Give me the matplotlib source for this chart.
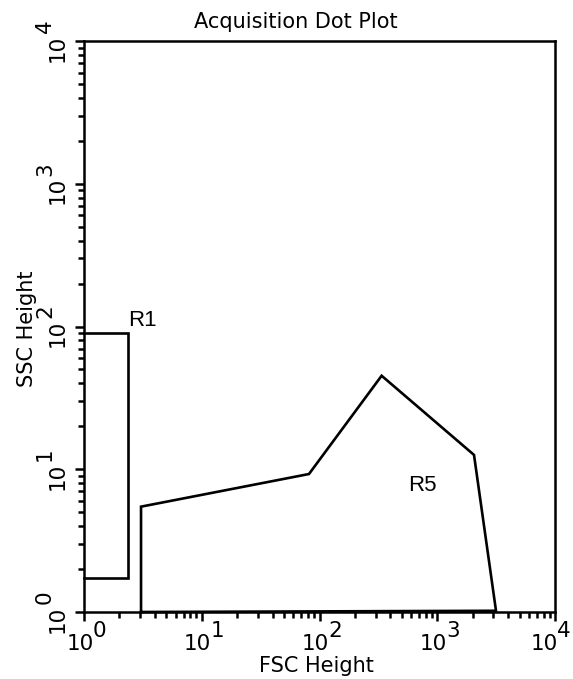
import matplotlib
matplotlib.use("Agg")
import matplotlib.pyplot as plt
from matplotlib.ticker import LogLocator, NullFormatter, FixedLocator

# Data
title = "Acquisition Dot Plot"
x_label = "FSC Height"
y_label = "SSC Height"
decades = [0, 1, 2, 3, 4]
tick_values = [10 ** d for d in decades]

r1_name = "R1"
r1_x = [1.0, 2.38, 2.38, 1.0]
r1_y = [89.6, 89.6, 1.72, 1.72]

r5_name = "R5"
r5_x = [3.05, 3.05, 81.4, 337, 2052, 3155, 3.05]
r5_y = [1.0, 5.47, 9.26, 45.2, 12.6, 1.02, 1.0]

r1_label_pos = (2.365, 100.8)
r5_label_pos = (565, 7.04)

W, H = 573, 679
fig = plt.figure(figsize=(W / 100, H / 100), dpi=100)
ax = fig.add_axes([84 / W, 1 - 612 / H, 471 / W, 571 / H])
ax.set_xscale("log")
ax.set_yscale("log")
ax.set_xlim(tick_values[0], tick_values[-1])
ax.set_ylim(tick_values[0], tick_values[-1])

for s in ax.spines.values():
    s.set_linewidth(1.8)
    s.set_color("black")

for axis in (ax.xaxis, ax.yaxis):
    axis.set_major_locator(FixedLocator(tick_values))
    axis.set_minor_locator(LogLocator(base=10, subs=range(2, 10)))
    axis.set_major_formatter(NullFormatter())
    axis.set_minor_formatter(NullFormatter())
ax.tick_params(which="major", direction="out", length=6.5, width=1.8, color="black")
ax.tick_params(which="minor", direction="out", length=4.5, width=1.8, color="black")

lw = 1.9
ax.plot(r1_x, r1_y, color="black", lw=lw, clip_on=False, solid_joinstyle="miter")
ax.plot(r5_x, r5_y, color="black", lw=lw, clip_on=False, solid_joinstyle="miter")

ax.text(*r1_label_pos, r1_name, family="Liberation Sans", fontsize=16,
        ha="left", va="baseline")
ax.text(*r5_label_pos, r5_name, family="Liberation Sans", fontsize=16,
        ha="left", va="baseline")

tfs = 15.5
tfam = "DejaVu Sans"
for i, (d, v) in enumerate(zip(decades, tick_values)):
    shift = -7 if i == len(decades) - 1 else 0
    # x tick labels
    ax.annotate("10", xy=(v, 0), xycoords=("data", "axes fraction"),
                xytext=(-4 + shift, -38), textcoords="offset pixels",
                ha="center", va="baseline", fontsize=tfs, family=tfam,
                annotation_clip=False)
    ax.annotate(str(d), xy=(v, 0), xycoords=("data", "axes fraction"),
                xytext=(9 + shift, -25), textcoords="offset pixels",
                ha="left", va="baseline", fontsize=tfs, family=tfam,
                annotation_clip=False)
    # y tick labels (rotated)
    ax.annotate("10", xy=(0, v), xycoords=("axes fraction", "data"),
                xytext=(-20, -7), textcoords="offset pixels",
                ha="center", va="baseline", rotation=90, rotation_mode="anchor",
                fontsize=tfs, family=tfam, annotation_clip=False)
    ax.annotate(str(d), xy=(0, v), xycoords=("axes fraction", "data"),
                xytext=(-33, 8), textcoords="offset pixels",
                ha="left", va="baseline", rotation=90, rotation_mode="anchor",
                fontsize=tfs, family=tfam, annotation_clip=False)

ax.annotate(x_label, xy=(0.5, 0), xycoords="axes fraction",
            xytext=(-3, -60), textcoords="offset pixels",
            ha="center", va="baseline", fontsize=15, family="DejaVu Sans")
ax.annotate(y_label, xy=(0, 0.5), xycoords="axes fraction",
            xytext=(-51, -2), textcoords="offset pixels",
            ha="center", va="baseline", rotation=90, rotation_mode="anchor",
            fontsize=15, family="DejaVu Sans")
ax.annotate(title, xy=(0.5, 1), xycoords="axes fraction",
            xytext=(-24, 13), textcoords="offset pixels",
            ha="center", va="baseline", fontsize=15, family="DejaVu Sans")

fig.savefig("out.png", dpi=100)
